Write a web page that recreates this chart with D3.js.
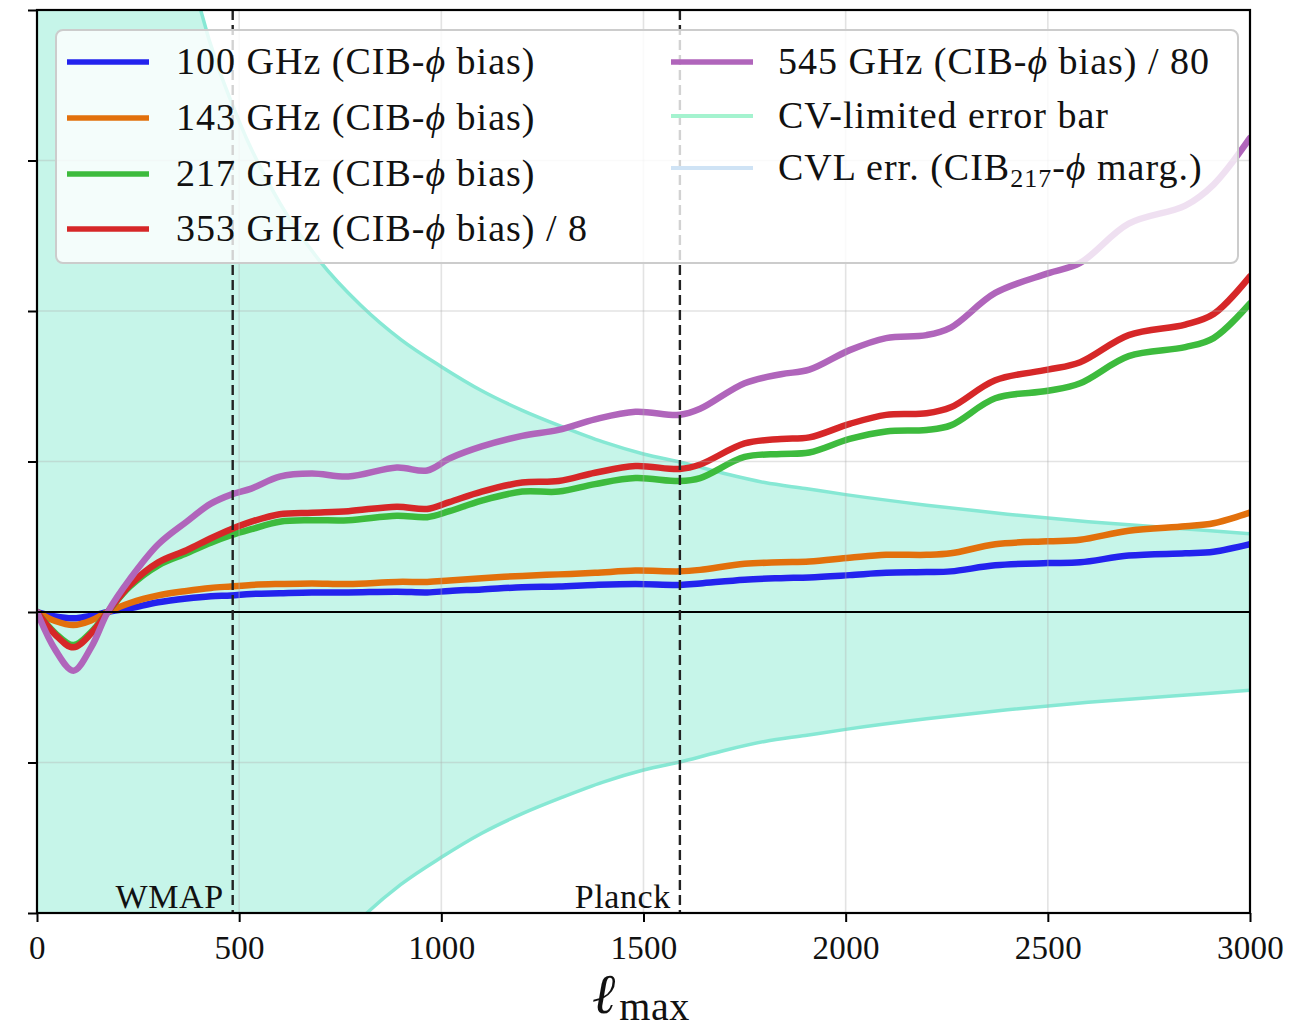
<!DOCTYPE html>
<html><head><meta charset="utf-8">
<script src="https://cdn.jsdelivr.net/npm/d3@7"></script>
<style>body{margin:0;background:#fff}svg{display:block}</style>
</head><body>
<svg id="chart" width="1291" height="1029"></svg>
<script>
// ---- data ----
const ell = [0,45,90,135,175,230,300,370,430,480,530,600,680,770,890,965,1020,1100,1200,1290,1380,1480,1590,1640,1750,1840,1910,2010,2100,2200,2260,2370,2500,2580,2700,2840,2910,3000];
const bias100 = [0,-0.03,-0.042,-0.025,0,0.025,0.065,0.09,0.105,0.11,0.12,0.125,0.13,0.13,0.135,0.13,0.14,0.15,0.165,0.17,0.18,0.186,0.18,0.19,0.215,0.225,0.23,0.245,0.26,0.265,0.27,0.31,0.325,0.33,0.375,0.39,0.40,0.45];
const bias143 = [0,-0.06,-0.087,-0.055,0,0.06,0.11,0.14,0.16,0.17,0.18,0.186,0.19,0.186,0.20,0.20,0.21,0.225,0.24,0.25,0.26,0.275,0.27,0.28,0.32,0.33,0.335,0.36,0.38,0.38,0.39,0.45,0.47,0.48,0.54,0.57,0.59,0.66];
const bias217 = [0,-0.14,-0.22,-0.13,0,0.17,0.31,0.39,0.46,0.51,0.55,0.60,0.61,0.61,0.64,0.63,0.67,0.74,0.80,0.80,0.85,0.89,0.87,0.89,1.03,1.05,1.06,1.15,1.20,1.21,1.24,1.42,1.47,1.52,1.70,1.76,1.82,2.05];
const bias353 = [0,-0.15,-0.235,-0.14,0,0.18,0.33,0.41,0.49,0.55,0.60,0.65,0.66,0.67,0.70,0.685,0.73,0.80,0.86,0.87,0.925,0.97,0.95,0.98,1.12,1.15,1.16,1.25,1.31,1.32,1.36,1.54,1.61,1.66,1.84,1.91,1.98,2.23];
const bias545 = [0,-0.25,-0.39,-0.23,0,0.22,0.45,0.60,0.72,0.78,0.82,0.90,0.92,0.90,0.96,0.94,1.02,1.10,1.17,1.21,1.28,1.33,1.31,1.35,1.52,1.58,1.61,1.74,1.82,1.84,1.89,2.12,2.25,2.32,2.58,2.70,2.84,3.15];

const ellErr = [2,50,100,200,300,400,500,600,700,800,900,1000,1100,1200,1300,1400,1500,1600,1700,1800,1900,2000,2200,2400,2600,2800,3000];
const cvErr  = [800,32,16,8.1,5.4,4.05,3.26,2.72,2.33,2.04,1.81,1.63,1.47,1.34,1.23,1.13,1.05,0.99,0.92,0.86,0.82,0.78,0.71,0.65,0.60,0.56,0.52];

const xTicks = [0,500,1000,1500,2000,2500,3000];
const yTicks = [-2,-1,0,1,2,3,4];
const vLines = [{ell:484,label:"WMAP"},{ell:1590,label:"Planck"}];

const seriesNames = ["100 GHz (CIB-ϕ bias)","143 GHz (CIB-ϕ bias)","217 GHz (CIB-ϕ bias)","353 GHz (CIB-ϕ bias) / 8","545 GHz (CIB-ϕ bias) / 80"];
const seriesValues = [bias100,bias143,bias217,bias353,bias545];
const seriesColors = ["#2323ee","#e2700c","#3dbb3d","#d62728","#b065bb"];

// ---- layout ----
const L=37,R=1250,T=10,B=913;
const svg=d3.select("#chart");
const x=d3.scaleLinear().domain([0,3000]).range([L,R]);
const y=d3.scaleLinear().domain([-2,4]).range([B,T]);
const serif="'Liberation Serif','DejaVu Serif',serif";

svg.append("defs").append("clipPath").attr("id","clip")
  .append("rect").attr("x",L).attr("y",T).attr("width",R-L).attr("height",B-T);

const plot=svg.append("g").attr("clip-path","url(#clip)");

// CV band
const errData=ellErr.map((l,i)=>({l,s:cvErr[i]}));
plot.append("path").datum(errData)
  .attr("d",d3.area().x(d=>x(d.l)).y0(d=>y(-d.s)).y1(d=>y(d.s)).curve(d3.curveMonotoneX))
  .attr("fill","#c6f5e9");
[1,-1].forEach(sg=>{
  plot.append("path").datum(errData)
    .attr("d",d3.line().x(d=>x(d.l)).y(d=>y(sg*d.s)).curve(d3.curveMonotoneX))
    .attr("fill","none").attr("stroke","#86e8d4").attr("stroke-width",3.5);
});

// grid
const grid=svg.append("g");
xTicks.forEach(t=>grid.append("line").attr("x1",x(t)).attr("x2",x(t)).attr("y1",T).attr("y2",B)
  .attr("stroke","#b0b0b0").attr("stroke-opacity",0.35).attr("stroke-width",1.6));
yTicks.forEach(t=>grid.append("line").attr("y1",y(t)).attr("y2",y(t)).attr("x1",L).attr("x2",R)
  .attr("stroke","#b0b0b0").attr("stroke-opacity",0.35).attr("stroke-width",1.6));

// zero line
svg.append("line").attr("x1",L).attr("x2",R).attr("y1",y(0)).attr("y2",y(0))
  .attr("stroke","#000").attr("stroke-width",2);

// vertical dashed lines + labels
vLines.forEach(v=>{
  svg.append("line").attr("x1",x(v.ell)).attr("x2",x(v.ell)).attr("y1",T).attr("y2",B)
    .attr("stroke","#222").attr("stroke-width",2.4).attr("stroke-dasharray","10,5");
  svg.append("text").attr("x",x(v.ell)-9).attr("y",B-5).attr("text-anchor","end")
    .attr("font-family",serif).attr("font-size",34).attr("letter-spacing",0.6).attr("fill","#111").text(v.label);
});

// curves
const line=d3.line().x(d=>x(d[0])).y(d=>y(d[1])).curve(d3.curveCatmullRom.alpha(0.5));
seriesValues.forEach((vals,i)=>{
  plot.append("path").datum(ell.map((l,j)=>[l,vals[j]]))
    .attr("d",line).attr("fill","none").attr("stroke",seriesColors[i])
    .attr("stroke-width",6.5).attr("stroke-linejoin","round").attr("stroke-linecap","round");
});

// axes
const xAxis=d3.axisBottom(x).tickValues(xTicks).tickSize(9).tickPadding(14).tickFormat(d3.format("d"));
const gx=svg.append("g").attr("transform",`translate(0,${B})`).call(xAxis);
gx.select(".domain").remove();
gx.selectAll(".tick line").attr("stroke","#000").attr("stroke-width",2);
gx.selectAll(".tick text").attr("font-family",serif).attr("font-size",33).attr("letter-spacing",0.3).attr("fill","#111");
const yAxis=d3.axisLeft(y).tickValues(yTicks).tickSize(9).tickFormat("");
const gy=svg.append("g").attr("transform",`translate(${L},0)`).call(yAxis);
gy.select(".domain").remove();
gy.selectAll(".tick line").attr("stroke","#000").attr("stroke-width",2);

// frame
svg.append("rect").attr("x",L).attr("y",T).attr("width",R-L).attr("height",B-T)
  .attr("fill","none").attr("stroke","#000").attr("stroke-width",2.2);

// x label
const xl=svg.append("text").attr("x",592).attr("y",1013).attr("font-family",serif).attr("fill","#111");
xl.append("tspan").attr("font-size",56).attr("font-style","italic").text("ℓ");
xl.append("tspan").attr("font-size",40).attr("dy",7).attr("dx",4).attr("letter-spacing",0.5).text("max");

// legend
const lg=svg.append("g");
lg.append("rect").attr("x",56).attr("y",30).attr("width",1182).attr("height",233).attr("rx",7)
  .attr("fill","#fff").attr("fill-opacity",0.8).attr("stroke","#cccccc").attr("stroke-width",2);
const entries=[
  {col:0,row:62,color:seriesColors[0],name:seriesNames[0]},
  {col:0,row:118,color:seriesColors[1],name:seriesNames[1]},
  {col:0,row:174,color:seriesColors[2],name:seriesNames[2]},
  {col:0,row:229,color:seriesColors[3],name:seriesNames[3]},
  {col:1,row:62,color:seriesColors[4],name:seriesNames[4]},
  {col:1,row:116,color:"#a4f3cf",name:"CV-limited error bar",w:4},
  {col:1,row:168,color:"#cfe3f5",name:"CVL",w:4}
];
entries.forEach(e=>{
  const lx = e.col===0?67:671, tx = e.col===0?176:778;
  lg.append("line").attr("x1",lx).attr("x2",lx+82).attr("y1",e.row).attr("y2",e.row)
    .attr("stroke",e.color).attr("stroke-width",e.w||5.5);
  const t=lg.append("text").attr("x",tx).attr("y",e.row+12).attr("font-family",serif)
    .attr("font-size",38).attr("letter-spacing",1).attr("fill","#111");
  if(e.name==="CVL"){
    t.append("tspan").text("CVL err. (CIB");
    t.append("tspan").attr("font-size",26).attr("dy",7).text("217");
    t.append("tspan").attr("dy",-7).text("-");
    t.append("tspan").attr("font-style","italic").text("ϕ");
    t.append("tspan").text(" marg.)");
  } else {
    const parts=e.name.split("ϕ");
    t.append("tspan").text(parts[0]);
    if(parts.length>1){
      t.append("tspan").attr("font-style","italic").text("ϕ");
      t.append("tspan").text(parts[1]);
    }
  }
});
</script>
</body></html>
